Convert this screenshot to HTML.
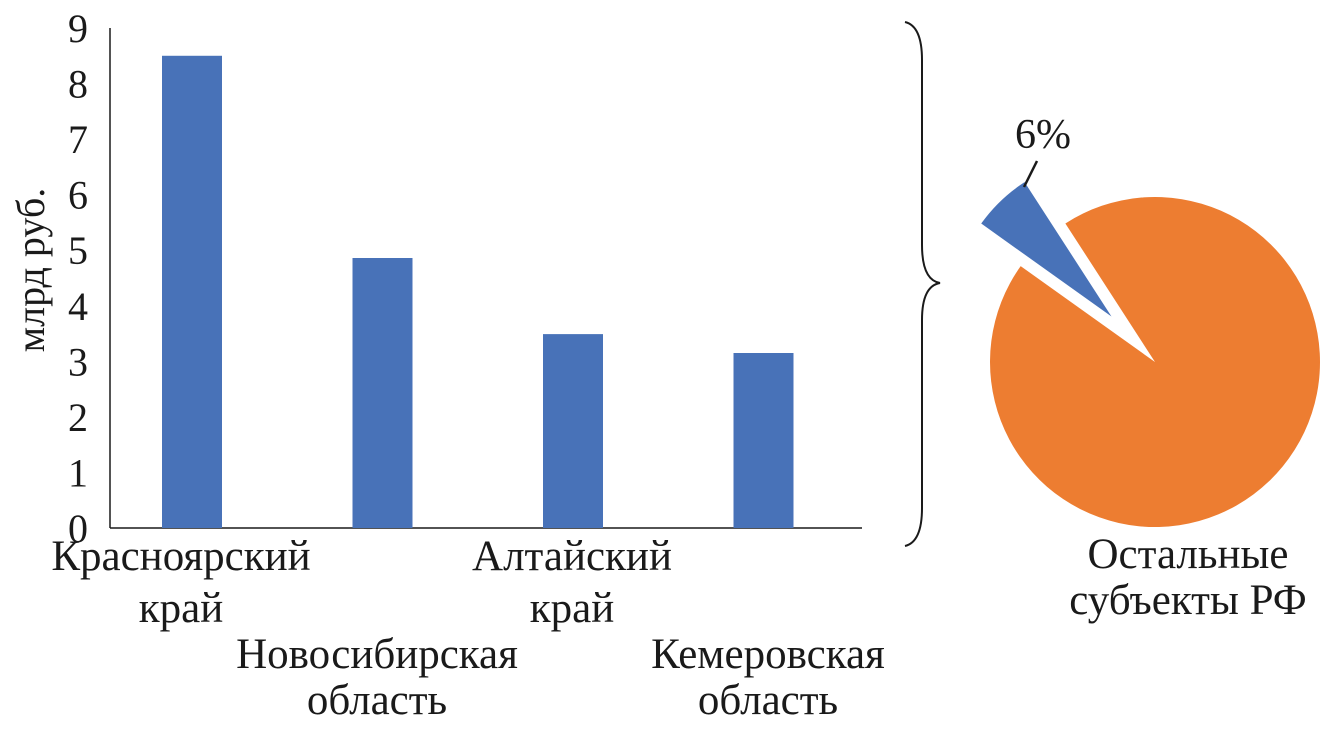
<!DOCTYPE html>
<html><head><meta charset="utf-8">
<style>
body{margin:0;background:#fff;}
svg text{font-family:"Liberation Serif",serif;fill:#1a1a1a;}
</style></head>
<body>
<svg id="c" width="1330" height="730" viewBox="0 0 1330 730" xmlns="http://www.w3.org/2000/svg">
<g id="bars"></g>
<path d="M905,22 Q922,26 922,60 L922,245 Q922,280 940,283 Q922,286 922,320 L922,508 Q922,542 905,546" fill="none" stroke="#1a1a1a" stroke-width="2"/>
<g id="pie"></g>
</svg>
<script>
const categories=[["Красноярский","край"],["Новосибирская","область"],["Алтайский","край"],["Кемеровская","область"]];
const values=[8.5,4.86,3.49,3.15];
const yTicks=[0,1,2,3,4,5,6,7,8,9];
const pieLabels=["6%","Остальные субъекты РФ"];
const pieValues=[6,94];
const NS="http://www.w3.org/2000/svg";
function mk(t,a,p){const e=document.createElementNS(NS,t);for(const k in a)e.setAttribute(k,a[k]);p.appendChild(e);return e;}
const bars=document.getElementById('bars');
const y=v=>528-v*(500/9);
const x0=110,slot=190.5;
const x=i=>x0+52+i*slot;
mk('line',{x1:x0,y1:28,x2:x0,y2:528,stroke:'#1a1a1a','stroke-width':1.5},bars);
mk('line',{x1:x0,y1:528,x2:862,y2:528,stroke:'#1a1a1a','stroke-width':1.5},bars);
yTicks.forEach(t=>{const e=mk('text',{x:88,y:y(t)+14,'text-anchor':'end','font-size':40},bars);e.textContent=t;
});
const yt=mk('text',{x:0,y:0,'font-size':40,'text-anchor':'middle',transform:'translate(44,270) rotate(-90)'},bars);yt.textContent='млрд руб.';

const labelY=[[570,622],[668,714],[570,622],[668,714]];
const labelX=[181,377,572,768];
values.forEach((v,i)=>{const r=mk('rect',{x:x(i),y:y(v),width:60,height:528-y(v),fill:'#4872b8'},bars);

categories[i].forEach((s,j)=>{const t=mk('text',{x:labelX[i],y:labelY[i][j],'text-anchor':'middle','font-size':43},bars);t.textContent=s;
});});
const pie=document.getElementById('pie');
const cx=1155,cy=362,R=165;
const tot=pieValues.reduce((a,b)=>a+b,0);
let start=-43.7-pieValues[0]/tot*180;
const colors=['#4872b8','#ed7d31'];
function pt(a,r,ox,oy){const rad=a*Math.PI/180;return [ox+r*Math.sin(rad),oy-r*Math.cos(rad)];}
pieValues.forEach((v,i)=>{const span=v/tot*360;const mid=start+span/2;
let ox=cx,oy=cy,r=R;if(i===0){[ox,oy]=pt(mid,63,cx,cy);r=160;}
const a=pt(start,r,ox,oy),b=pt(start+span,r,ox,oy);
const p=mk('path',{d:`M${ox},${oy} L${a[0]},${a[1]} A${r},${r} 0 ${span>180?1:0} 1 ${b[0]},${b[1]} Z`,fill:colors[i]},pie);

if(i===0){
mk('line',{x1:1024,y1:187,x2:1037,y2:161,stroke:'#1a1a1a','stroke-width':2.5},pie);
const t=mk('text',{x:1043,y:148,'text-anchor':'middle','font-size':42},pie);t.textContent=pieLabels[0];
}
start+=span;});
const w=pieLabels[1].split(' ');
[[w[0],568],[w[1]+' '+w[2],614]].forEach(([s,yy])=>{const t=mk('text',{x:1188,y:yy,'text-anchor':'middle','font-size':43},pie);t.textContent=s;
});
</script>
</body></html>
